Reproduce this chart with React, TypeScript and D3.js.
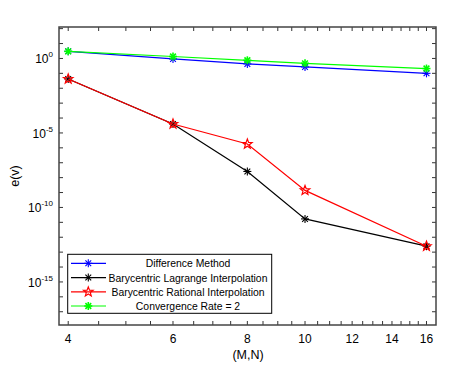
import React from "react";
import * as d3 from "d3";

const xValues = [4, 6, 8, 10, 16];
const diffMethod = [3.0, 0.93, 0.43, 0.27, 0.1];
const lagrange = [0.042, 4.0e-5, 2.6e-8, 1.7e-11, 2.5e-13];
const rational = [0.042, 4.0e-5, 1.8e-6, 1.4e-9, 2.5e-13];
const convRate = [3.0, 1.35, 0.75, 0.47, 0.21];

const seriesNames = [
  "Difference Method",
  "Barycentric Lagrange Interpolation",
  "Barycentric Rational Interpolation",
  "Convergence Rate = 2",
];
const xTickLabels = [4, 6, 8, 10, 12, 14, 16];
const yTickExponents = [0, -5, -10, -15];

const W = 472, H = 376;
const L = 59, R = 436, T = 27, B = 325;
const FONT = "'Liberation Sans', Arial, sans-serif";

const x = d3.scaleLog().domain([3.86, 16.6]).range([L, R]);
const y = d3.scaleLog().domain([Math.pow(10, -17.89), Math.pow(10, 2.11)]).range([B, T]);

function Asterisk({ cx, cy, color, sw = 1, r = 4 }: any) {
  const d = r * 0.72;
  return (
    <g stroke={color} strokeWidth={sw}>
      <line x1={cx - r} y1={cy} x2={cx + r} y2={cy} />
      <line x1={cx} y1={cy - r} x2={cx} y2={cy + r} />
      <line x1={cx - d} y1={cy - d} x2={cx + d} y2={cy + d} />
      <line x1={cx - d} y1={cy + d} x2={cx + d} y2={cy - d} />
    </g>
  );
}

function Pentagram({ cx, cy, color, r = 5 }: any) {
  const pts: string[] = [];
  for (let i = 0; i < 10; i++) {
    const rr = i % 2 === 0 ? r : r * 0.42;
    const a = -Math.PI / 2 + (i * Math.PI) / 5;
    pts.push(`${cx + rr * Math.cos(a)},${cy + rr * Math.sin(a)}`);
  }
  return <polygon points={pts.join(" ")} fill="none" stroke={color} strokeWidth={1.2} />;
}

const series = [
  { name: seriesNames[0], values: diffMethod, color: "#0000ff", marker: "ast", sw: 1.1 },
  { name: seriesNames[1], values: lagrange, color: "#000000", marker: "ast", sw: 1.1 },
  { name: seriesNames[2], values: rational, color: "#ff0000", marker: "star", sw: 1.1 },
  { name: seriesNames[3], values: convRate, color: "#00ff00", marker: "ast", sw: 1.6 },
];

function Marker({ s, cx, cy }: any) {
  if (s.marker === "star") return <Pentagram cx={cx} cy={cy} color={s.color} />;
  return <Asterisk cx={cx} cy={cy} color={s.color} sw={s.sw} />;
}

export default function App() {
  const line = d3
    .line<[number, number]>()
    .x((d) => x(d[0]))
    .y((d) => y(d[1]));

  const minorX: number[] = [];
  for (let v = 4; v <= 16.001; v += 0.5) minorX.push(v);
  const yDecades: number[] = [];
  for (let e = -17; e <= 2; e++) yDecades.push(e);

  const legX = 67.7, legY = 254.3, legW = 204, legH = 59;
  const rowY = [263.3, 277.6, 291.9, 306.0];

  return (
    <svg width={W} height={H} style={{ position: "absolute", left: 0, top: 0 }} fontFamily={FONT}>
      <rect x={0} y={0} width={W} height={H} fill="#fff" />
      <g stroke="#333" strokeWidth={1}>
        {minorX.map((v) => (
          <g key={"xt" + v}>
            <line x1={x(v)} x2={x(v)} y1={B} y2={B - 4} />
            <line x1={x(v)} x2={x(v)} y1={T} y2={T + 4} />
          </g>
        ))}
        {yDecades.map((e) => {
          const yy = y(Math.pow(10, e));
          if (yy < T || yy > B) return null;
          return (
            <g key={"yt" + e}>
              <line x1={L} x2={L + 4} y1={yy} y2={yy} />
              <line x1={R} x2={R - 4} y1={yy} y2={yy} />
            </g>
          );
        })}
      </g>
      {series.map((s) => (
        <g key={s.name}>
          <path
            d={line(xValues.map((xv, i) => [xv, s.values[i]]) as [number, number][]) || ""}
            fill="none"
            stroke={s.color}
            strokeWidth={1.2}
          />
          {xValues.map((xv, i) => (
            <Marker key={i} s={s} cx={x(xv)} cy={y(s.values[i])} />
          ))}
        </g>
      ))}
      <rect x={L} y={T} width={R - L} height={B - T} fill="none" stroke="#444" strokeWidth={1.5} />
      {xTickLabels.map((v) => (
        <text key={"xl" + v} x={x(v)} y={343} textAnchor="middle" fontSize={12} fill="#000">
          {v}
        </text>
      ))}
      <text x={(L + R) / 2 + 0.5} y={359} textAnchor="middle" fontSize={12.5} fill="#000">
        (M,N)
      </text>
      {yTickExponents.map((e) => {
        const yy = y(Math.pow(10, e));
        const expStr = e === 0 ? "0" : "-" + Math.abs(e);
        return (
          <text key={"yl" + e} x={53} y={yy + 5} textAnchor="end" fontSize={12} fill="#000">
            10
            <tspan fontSize={8} dy={-6}>
              {expStr}
            </tspan>
          </text>
        );
      })}
      <text
        transform={`translate(19,${(T + B) / 2}) rotate(-90)`}
        textAnchor="middle"
        fontSize={12.5}
        fill="#000"
      >
        e(v)
      </text>
      <rect x={legX} y={legY} width={legW} height={legH} fill="#fff" stroke="#000" strokeWidth={1} />
      {series.map((s, i) => (
        <g key={"lg" + i}>
          <line x1={71} x2={106} y1={rowY[i]} y2={rowY[i]} stroke={s.color} strokeWidth={1.2} />
          <Marker s={s} cx={88.3} cy={rowY[i]} />
          <text x={188} y={rowY[i] + 4} textAnchor="middle" fontSize={10.4} fill="#000">
            {s.name}
          </text>
        </g>
      ))}
    </svg>
  );
}
